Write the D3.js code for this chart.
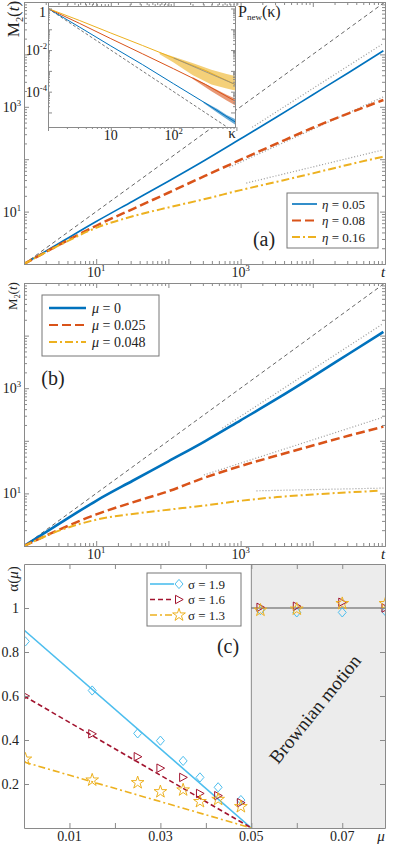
<!DOCTYPE html>
<html>
<head>
<meta charset="utf-8">
<script src="https://cdn.jsdelivr.net/npm/d3@7"></script>
<style>
  body { margin: 0; background: #fff; }
  .axis path, .axis line { stroke: #8a8a8a; }
</style>
</head>
<body>
<div id="chart"></div>
<script>
// ---- panel (a) and (b): M2(t) vs t
var tA = [1, 3.2, 10, 32, 100, 320, 1000, 3200, 10000, 32000, 95000];
var mEta05 = [1, 2.57, 6.46, 15.8, 38, 95.5, 245, 646, 1700, 4571, 11750];
var mEta08 = [1, 2.4, 5.37, 11.2, 22.9, 47.9, 97.7, 200, 398, 759, 1349];
var mEta16 = [1, 2.34, 4.9, 8.13, 12, 17.4, 25.7, 37.2, 53.7, 79.4, 112];
var fitA = [
  {t: [1450, 95000], m: [407, 16200]},
  {t: [700, 95000], m: [70, 1550]},
  {t: [1200, 95000], m: [35, 151]}
];
var etaLabels = ["0.05", "0.08", "0.16"];

var tB = [1, 3.2, 10, 32, 100, 320, 1000, 3200, 10000, 32000, 95000];
var tB3 = [1, 3.2, 10, 32, 100, 320, 1000, 3200, 10000, 32000, 80000];
var mMu0 = [1, 2.75, 7.24, 17.4, 40.7, 97.7, 245, 631, 1660, 4571, 11750];
var mMu025 = [1, 2.09, 3.98, 6.76, 11, 20, 33.1, 52.5, 81.3, 126, 186];
var mMu048 = [1, 2, 3.16, 4.07, 4.9, 5.89, 7.24, 8.51, 9.55, 10.5, 11.2];
var fitB = [
  {t: [560, 95000], m: [174, 17000]},
  {t: [310, 95000], m: [22.4, 282]},
  {t: [1660, 95000], m: [11.2, 12.6]}
];
var muLabels = ["0", "0.025", "0.048"];

// ---- inset: P_new(kappa)
var kappa = [1, 3.2, 10, 32, 100, 320, 950];
var pBlue = [1, 0.126, 0.0158, 0.002, 0.00024, 2.82e-5, 3.55e-6];
var pRed = [1, 0.19, 0.0355, 0.0066, 0.00126, 0.000224, 3.55e-5];
var pYellow = [1, 0.263, 0.0661, 0.0166, 0.00417, 0.00105, 0.000224];
var kBandY = [60, 100, 200, 400, 700, 950];
var yHi = [-2.1, -2.32, -2.62, -2.95, -3.15, -3.25];
var yLo = [-2.2, -2.6, -3.2, -3.65, -3.85, -3.95];
var kBandR = [200, 400, 700, 950];
var rHi = [-3.3, -3.78, -4.15, -4.33];
var rLo = [-3.38, -3.98, -4.42, -4.65];
var kBandB = [300, 500, 700, 950];
var bHi = [-4.47, -4.84, -5.12, -5.32];
var bLo = [-4.55, -5.02, -5.32, -5.58];

// ---- panel (c): alpha(mu)
var mu = [0.0003, 0.015, 0.025, 0.03, 0.035, 0.0387, 0.0427, 0.0477, 0.052, 0.06, 0.07, 0.0795];
var a19 = [0.848, 0.625, 0.43, 0.397, 0.305, 0.23, 0.185, 0.127, 0.99, 0.98, 0.98, 0.985];
var a16 = [0.6, 0.428, 0.324, 0.272, 0.23, 0.157, 0.147, 0.115, 1.003, 1.008, 1.026, 1.0];
var a13 = [0.313, 0.218, 0.206, 0.165, 0.173, 0.12, 0.13, 0.097, 0.99, 0.995, 1.02, 1.02];
var fitMu = [0, 0.05];
var fit19 = [0.9, 0];
var fit16 = [0.6, 0];
var fit13 = [0.3, 0];
var sigmaLabels = ["1.9", "1.6", "1.3"];

var blue = "#0072BD", red = "#D95319", yellow = "#EDB120";
var cBlue = "#4DBEEE", cRed = "#A2142F", cYellow = "#EDB120";
var gray = "#8a8a8a";
var FONT = "'Liberation Serif', 'DejaVu Serif', 'Times New Roman', serif";

var L = 24, R = 385;
var svg = d3.select("#chart").append("svg").attr("width", 395).attr("height", 845)
  .attr("font-family", FONT);

function logTicks(lo, hi) {
  var maj = [], min = [];
  for (var e = lo; e <= hi; e++) {
    maj.push(Math.pow(10, e));
    if (e < hi) for (var k = 2; k < 10; k++) min.push(k * Math.pow(10, e));
  }
  return [maj, min];
}

// box with inward ticks on all four sides
function frame(x, y, xt, yt, big, small) {
  var g = svg.append("g").attr("class", "axis");
  var x0 = x.range()[0], x1 = x.range()[1], y0 = y.range()[0], y1 = y.range()[1];
  function side(axisFn, scale, vals, size, tr) {
    g.append("g").attr("transform", tr)
      .call(axisFn(scale).tickValues(vals).tickSize(-size).tickSizeOuter(0).tickFormat(""));
  }
  side(d3.axisBottom, x, xt[0], big, "translate(0," + y0 + ")");
  side(d3.axisTop, x, xt[0], big, "translate(0," + y1 + ")");
  side(d3.axisLeft, y, yt[0], big, "translate(" + x0 + ",0)");
  side(d3.axisRight, y, yt[0], big, "translate(" + x1 + ",0)");
  if (xt[1].length) {
    side(d3.axisBottom, x, xt[1], small, "translate(0," + y0 + ")");
    side(d3.axisTop, x, xt[1], small, "translate(0," + y1 + ")");
  }
  if (yt[1].length) {
    side(d3.axisLeft, y, yt[1], small, "translate(" + x0 + ",0)");
    side(d3.axisRight, y, yt[1], small, "translate(" + x1 + ",0)");
  }
  g.selectAll("path.domain").attr("stroke", gray);
  return g;
}

function powLabel(xp, yp, exp, anchor, size) {
  var t = svg.append("text").attr("x", xp).attr("y", yp).attr("font-family", FONT)
    .attr("text-anchor", anchor).attr("font-size", size).attr("fill", "#222");
  t.append("tspan").text("10");
  t.append("tspan").attr("dy", -size * 0.42).attr("font-size", size * 0.62).text(exp);
  return t;
}

function plain(xp, yp, str, size, anchor, italic) {
  return svg.append("text").attr("x", xp).attr("y", yp).attr("font-size", size).attr("font-family", FONT)
    .attr("text-anchor", anchor || "start").attr("fill", "#222")
    .attr("font-style", italic ? "italic" : null).text(str);
}

function m2Label(xp, yp, size) {
  var t = svg.append("text").attr("transform", "translate(" + xp + "," + yp + ") rotate(-90)")
    .attr("font-family", FONT).attr("text-anchor", "middle").attr("font-size", size).attr("fill", "#222");
  t.append("tspan").text("M");
  t.append("tspan").attr("dy", size * 0.25).attr("font-size", size * 0.6).text("2");
  t.append("tspan").attr("dy", -size * 0.25).text("(");
  t.append("tspan").attr("font-style", "italic").text("t");
  t.append("tspan").text(")");
}

function pairs(xs, ys) { return xs.map(function(v, i) { return [v, ys[i]]; }); }

function mPanel(top, bottom, series, fits, clipId) {
  var x = d3.scaleLog().domain([1, 1e5]).range([L, R]);
  var y = d3.scaleLog().domain([1, 1e5]).range([bottom, top]);
  svg.append("clipPath").attr("id", clipId).append("rect")
    .attr("x", L).attr("y", top).attr("width", R - L).attr("height", bottom - top);
  var g = svg.append("g").attr("clip-path", "url(#" + clipId + ")");
  var line = d3.line().x(function(d) { return x(d[0]); }).y(function(d) { return y(d[1]); });
  var smooth = d3.line().curve(d3.curveMonotoneX).x(function(d) { return x(d[0]); }).y(function(d) { return y(d[1]); });

  g.append("path").attr("d", line([[1, 1], [1e5, 1e5]]))
    .attr("fill", "none").attr("stroke", "#666").attr("stroke-width", 1).attr("stroke-dasharray", "4,3");
  fits.forEach(function(f) {
    g.append("path").attr("d", line(pairs(f.t, f.m)))
      .attr("fill", "none").attr("stroke", "#999").attr("stroke-width", 1.2).attr("stroke-dasharray", "1,2");
  });
  series.forEach(function(s) {
    g.append("path").attr("d", smooth(pairs(s.t, s.m)))
      .attr("fill", "none").attr("stroke", s.color).attr("stroke-width", s.w)
      .attr("stroke-dasharray", s.dash);
  });
  frame(x, y, logTicks(0, 5), logTicks(0, 5), 5, 3);
  powLabel(x(10), bottom + 13, "1", "middle", 14);
  powLabel(x(1000), bottom + 13, "3", "middle", 14);
  plain(x(1e5) - 2, bottom + 13, "t", 15, "middle", true);
  powLabel(21, y(10) + 5, "1", "end", 14);
  powLabel(21, y(1000) + 5, "3", "end", 14);
  return {x: x, y: y};
}

function legend(x0, y0, w, h, items, sx0, sx1, tx, fs) {
  var g = svg.append("g");
  g.append("rect").attr("x", x0).attr("y", y0).attr("width", w).attr("height", h)
    .attr("fill", "#fff").attr("stroke", "#777").attr("stroke-width", 1);
  items.forEach(function(it) {
    g.append("line").attr("x1", sx0).attr("x2", sx1).attr("y1", it.y).attr("y2", it.y)
      .attr("stroke", it.color).attr("stroke-width", it.w).attr("stroke-dasharray", it.dash);
    if (it.marker) g.append("path").attr("d", it.marker).attr("transform", "translate(" + it.mx + "," + it.y + ")")
      .attr("fill", "none").attr("stroke", it.color).attr("stroke-width", 1);
    var t = g.append("text").attr("x", tx).attr("y", it.y + fs * 0.35).attr("font-size", fs)
      .attr("font-family", FONT).attr("fill", "#222");
    t.append("tspan").attr("font-style", it.italic ? "italic" : null).text(it.sym);
    t.append("tspan").text(" = " + it.val);
  });
}

// ================= panel (a)
var styles = [
  {color: blue, dash: null},
  {color: red, dash: "9,4"},
  {color: yellow, dash: "8,3,2,3"}
];
mPanel(2, 264, [
  {t: tA, m: mEta05, color: blue, w: 1.6, dash: null},
  {t: tA, m: mEta08, color: red, w: 2.5, dash: "9,4"},
  {t: tA, m: mEta16, color: yellow, w: 2, dash: "8,3,2,3"}
], fitA, "clipA");
m2Label(19, 19, 17);
legend(287, 193, 91, 55, etaLabels.map(function(v, i) {
  return {y: 204 + i * 16.5, color: styles[i].color, dash: styles[i].dash, w: i === 0 ? 1.6 : 2,
          sym: "\u03b7", val: v, italic: true};
}), 292, 317, 322, 13);
plain(264, 246, "(a)", 20, "middle");

// ---- inset
var ix = d3.scaleLog().domain([1, 950]).range([48, 235]);
var iy = d3.scaleLog().domain([Math.pow(10, 0.12), Math.pow(10, -5.7)]).range([6, 127]);
svg.append("rect").attr("x", 48).attr("y", 6).attr("width", 187).attr("height", 121).attr("fill", "#fff");
svg.append("clipPath").attr("id", "clipI").append("rect").attr("x", 48).attr("y", 6).attr("width", 187).attr("height", 121);
var gi = svg.append("g").attr("clip-path", "url(#clipI)");
var iline = d3.line().x(function(d) { return ix(d[0]); }).y(function(d) { return iy(d[1]); });
var iband = d3.area().x(function(d) { return ix(d[0]); })
  .y0(function(d) { return iy(Math.pow(10, d[1])); }).y1(function(d) { return iy(Math.pow(10, d[2])); });
gi.append("path").attr("d", iline([[1, 1], [950, 1 / (950 * 950)]]))
  .attr("fill", "none").attr("stroke", "#777").attr("stroke-width", 1).attr("stroke-dasharray", "3,2");
[[kBandB, bHi, bLo, blue], [kBandR, rHi, rLo, red], [kBandY, yHi, yLo, yellow]].forEach(function(b) {
  gi.append("path").attr("d", iband(b[0].map(function(k, i) { return [k, b[1][i], b[2][i]]; })))
    .attr("fill", b[3]).attr("opacity", 0.6);
});
[[pBlue, blue], [pRed, red], [pYellow, yellow]].forEach(function(s) {
  gi.append("path").attr("d", iline(pairs(kappa, s[0])))
    .attr("fill", "none").attr("stroke", s[1]).attr("stroke-width", 1);
});
gi.append("path").attr("d", iline([[100, pYellow[4]], [950, pYellow[6]]]))
  .attr("fill", "none").attr("stroke", "#888").attr("stroke-width", 0.8);
var iyt = logTicks(-5, 0);
frame(ix, iy, logTicks(0, 3), iyt, 4, 2);
plain(46, 17, "1", 14, "end");
powLabel(47, 55, "-2", "end", 14);
powLabel(47, 97, "-4", "end", 14);
plain(ix(10), 140, "10", 14, "middle");
powLabel(ix(100), 140, "2", "middle", 14);
plain(232, 138, "\u03ba", 15, "middle");
var pl = svg.append("text").attr("x", 238).attr("y", 17).attr("font-size", 16)
  .attr("font-family", FONT).attr("fill", "#222");
pl.append("tspan").text("P");
pl.append("tspan").attr("dy", 3).attr("font-size", 9).text("new");
pl.append("tspan").attr("dy", -3).text("(\u03ba)");

// ================= panel (b)
mPanel(283, 546, [
  {t: tB, m: mMu0, color: blue, w: 2.6, dash: null},
  {t: tB, m: mMu025, color: red, w: 2.5, dash: "9,4"},
  {t: tB3, m: mMu048, color: yellow, w: 2, dash: "8,3,2,3"}
], fitB, "clipB");
m2Label(17, 296, 13);
legend(42, 295, 117, 61, muLabels.map(function(v, i) {
  return {y: 308 + i * 17, color: styles[i].color, dash: styles[i].dash, w: i === 0 ? 2.6 : 2,
          sym: "\u03bc", val: v, italic: true};
}), 49, 86, 92, 14);
plain(53, 385, "(b)", 20, "middle");

// ================= panel (c)
var cx = d3.scaleLinear().domain([0, 0.0794]).range([L, R]);
var cy = d3.scaleLinear().domain([0, 1.2]).range([828, 564]);
svg.append("rect").attr("x", cx(0.05)).attr("y", 564).attr("width", R - cx(0.05)).attr("height", 264)
  .attr("fill", "#ececec");
svg.append("line").attr("x1", cx(0.05)).attr("x2", cx(0.05)).attr("y1", 564).attr("y2", 828)
  .attr("stroke", gray).attr("stroke-width", 1);
svg.append("line").attr("x1", cx(0.05)).attr("x2", R).attr("y1", cy(1)).attr("y2", cy(1))
  .attr("stroke", "#555").attr("stroke-width", 1.2);
svg.append("text").attr("transform", "translate(320,713) rotate(-51)").attr("font-family", FONT)
  .attr("text-anchor", "middle").attr("font-size", 19).attr("fill", "#222").text("Brownian motion");

svg.append("clipPath").attr("id", "clipC").append("rect").attr("x", L).attr("y", 564).attr("width", R - L).attr("height", 264);
var gc = svg.append("g").attr("clip-path", "url(#clipC)");
var cline = d3.line().x(function(d) { return cx(d[0]); }).y(function(d) { return cy(d[1]); });
var diamond = "M0,-4.6L4,0L0,4.6L-4,0Z";
var triRight = "M-3.5,-4.2L4.2,0L-3.5,4.2Z";
var star = d3.symbol().type(d3.symbolStar).size(50)();
var cSeries = [
  {fit: fit19, pts: a19, color: cBlue, dash: null, marker: diamond},
  {fit: fit16, pts: a16, color: cRed, dash: "5,3", marker: triRight},
  {fit: fit13, pts: a13, color: cYellow, dash: "7,3,2,3", marker: star}
];
cSeries.forEach(function(s) {
  gc.append("path").attr("d", cline(pairs(fitMu, s.fit)))
    .attr("fill", "none").attr("stroke", s.color).attr("stroke-width", 1.6).attr("stroke-dasharray", s.dash);
});
cSeries.forEach(function(s) {
  gc.selectAll(null).data(pairs(mu, s.pts)).enter().append("path")
    .attr("d", s.marker)
    .attr("transform", function(d) { return "translate(" + cx(d[0]) + "," + cy(d[1]) + ")"; })
    .attr("fill", "none").attr("stroke", s.color).attr("stroke-width", 1);
});
frame(cx, cy, [d3.range(0.01, 0.075, 0.01), []], [d3.range(0.2, 1.15, 0.2), []], 5, 3);
[0.01, 0.03, 0.05, 0.07].forEach(function(v) { plain(cx(v), 841, String(v), 14, "middle"); });
plain(cx(0.0794) - 4, 841, "\u03bc", 15, "middle", true);
[[1, "1"], [0.8, "0.8"], [0.6, "0.6"], [0.4, "0.4"], [0.2, "0.2"]].forEach(function(v) {
  plain(19, cy(v[0]) + 5, v[1], 14, "end");
});
var al = svg.append("text").attr("transform", "translate(18,579) rotate(-90)").attr("font-family", FONT)
  .attr("text-anchor", "middle").attr("font-size", 15).attr("fill", "#222");
al.append("tspan").text("\u03b1(");
al.append("tspan").attr("font-style", "italic").text("\u03bc");
al.append("tspan").text(")");
legend(147, 573, 94, 53, sigmaLabels.map(function(v, i) {
  var s = cSeries[i];
  return {y: 584 + i * 15.5, color: s.color, dash: s.dash, w: 1.6, sym: "\u03c3", val: v,
          italic: false, marker: s.marker, mx: 179};
}), 150, 174, 188, 13);
plain(228, 653, "(c)", 20, "middle");
</script>
</body>
</html>
